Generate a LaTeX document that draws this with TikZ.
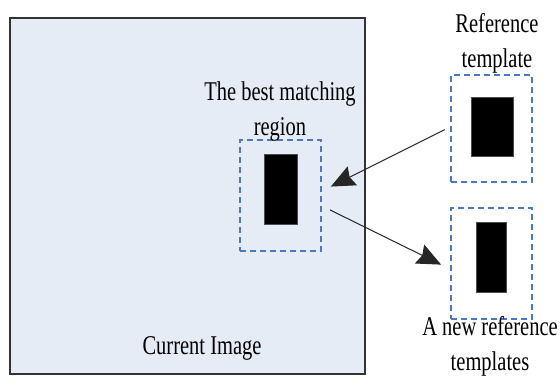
\documentclass[tikz,border=0pt]{standalone}
\usepackage{fontspec}
\setmainfont{Liberation Serif}
\usetikzlibrary{positioning,arrows.meta}
\definecolor{imgbg}{RGB}{230,236,246}
\definecolor{dashblue}{RGB}{74,120,194}

\begin{document}
\begin{tikzpicture}[
		x=1pt, y=1pt
		,every node/.append style={inner sep=0pt, outer sep=0pt}
		,img/.style={rectangle, draw=black!80, line width=1.3pt, fill=imgbg}
		,tpl/.style={rectangle, draw=dashblue, line width=1.4pt, dash pattern=on 6pt off 4pt}
		,blk/.style={rectangle, fill=black, draw=black!70, line width=.4pt}
		,lbl/.style={font=\fontsize{20.5}{26.5}\selectfont, align=center, yscale=1.32, transform shape}
		,arr/.style={draw=black!85, line width=1pt, -{Stealth[length=24pt, width=21pt, inset=3pt]}}
	]
		\useasboundingbox (0,0) rectangle (560,376);
		% current image
		\node [img, minimum width=355pt, minimum height=356pt] (cur) at (187.5,180) {};
		\node [lbl] (curlbl) at (202,28) {Current Image};
		% best matching region
		\node [tpl, minimum width=81pt, minimum height=111pt] (best) at (280.5,180.5) {};
		\node [blk, minimum width=33pt, minimum height=70pt] (bestblk) at (280.5,187) {};
		\node [lbl] (bestlbl) at (280,264) {The best matching\\region};
		% reference template
		\node [tpl, fill=white, minimum width=81pt, minimum height=107pt] (tmpl) at (491.5,247.5) {};
		\node [blk, minimum width=42pt, minimum height=59pt] (tmplblk) at (492,249.5) {};
		\node [lbl] (tmpllbl) at (497,333) {Reference\\template};
		% new reference template
		\node [tpl, fill=white, minimum width=81pt, minimum height=111pt] (newt) at (491.5,112.5) {};
		\node [blk, minimum width=30pt, minimum height=70pt] (newtblk) at (491,119) {};
		\node [lbl] (newtlbl) at (490,30) {A new reference\\templates};
		% arrows
		\draw [arr, shorten <=7pt, shorten >=11pt] ([yshift=2pt]tmpl.west) -- ([yshift=4pt]best.east);
		\draw [arr, shorten <=10pt, shorten >=11pt] ([yshift=-10pt]best.east) -- ([yshift=-6pt]newt.west);
	\end{tikzpicture}
\end{document}
